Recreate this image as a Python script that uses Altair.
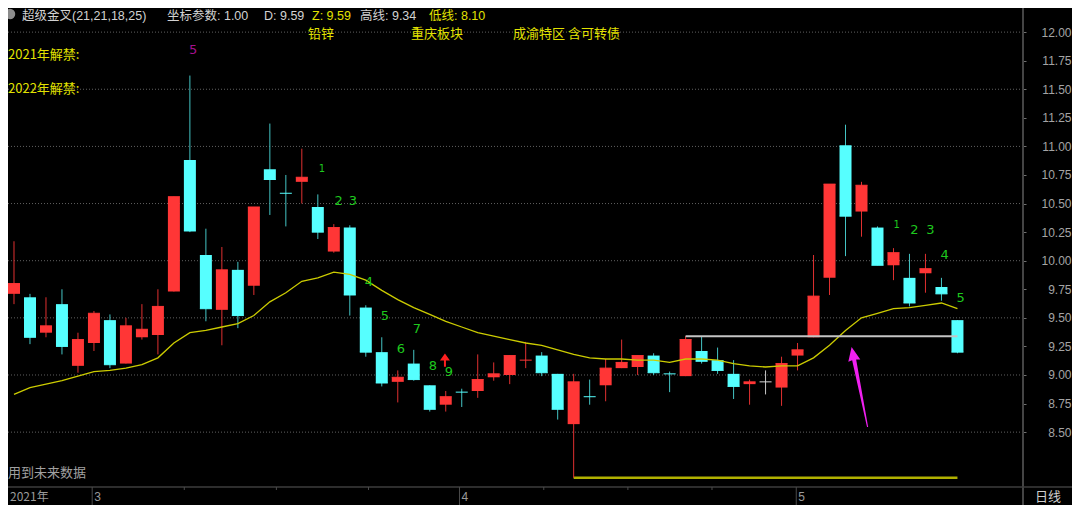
import altair as alt
import pandas as pd

# ---------------- data ----------------
opens = [9.71, 9.68, 9.37, 9.62, 9.08, 9.28, 9.48, 9.10, 9.33, 9.35,
         9.73, 10.88, 10.05, 9.57, 9.92, 9.78, 10.80, 10.59, 10.69, 10.47,
         10.08, 10.29, 9.59, 9.20, 8.94, 9.10, 8.91, 8.74, 8.85, 8.86,
         8.98, 9.00, 9.13, 9.17, 9.01, 8.57, 8.81, 8.91, 9.06, 9.07,
         9.17, 9.01, 8.99, 9.21, 9.13, 9.01, 8.92, 8.94, 8.89, 9.17,
         9.33, 9.85, 11.01, 10.43, 10.29, 9.96, 9.85, 9.89, 9.77, 9.48]
closes = [9.80, 9.33, 9.43, 9.25, 9.31, 9.54, 9.09, 9.43, 9.40, 9.60,
          10.56, 10.26, 9.58, 9.92, 9.52, 10.47, 10.71, 10.59, 10.73, 10.25,
          10.29, 9.70, 9.20, 8.93, 8.98, 8.96, 8.70, 8.81, 8.85, 8.96,
          9.01, 9.17, 9.13, 9.02, 8.70, 8.94, 8.81, 9.06, 9.11, 9.17,
          9.02, 9.01, 9.31, 9.12, 9.04, 8.90, 8.94, 8.94, 9.10, 9.22,
          9.69, 10.67, 10.39, 10.66, 9.96, 10.07, 9.63, 9.93, 9.71, 9.20]
highs = [10.17, 9.71, 9.68, 9.75, 9.37, 9.56, 9.53, 9.50, 9.62, 9.75,
         10.56, 11.62, 10.28, 10.12, 9.99, 10.47, 11.20, 10.75, 10.98, 10.58,
         10.32, 10.31, 9.61, 9.33, 9.04, 9.22, 8.91, 8.86, 8.88, 9.18,
         9.11, 9.17, 9.29, 9.20, 9.01, 9.01, 8.96, 9.14, 9.31, 9.17,
         9.19, 9.03, 9.34, 9.34, 9.24, 9.13, 8.96, 9.04, 9.16, 9.28,
         10.05, 10.67, 11.19, 10.69, 10.30, 10.11, 10.06, 10.06, 9.85, 9.48]
lows = [9.62, 9.27, 9.33, 9.18, 9.02, 9.21, 9.06, 9.10, 9.31, 9.18,
        9.73, 10.25, 9.47, 9.26, 9.41, 9.70, 10.40, 10.30, 10.50, 10.19,
        10.07, 9.52, 9.16, 8.90, 8.76, 8.95, 8.68, 8.68, 8.72, 8.80,
        8.95, 8.92, 9.06, 8.99, 8.61, 8.10, 8.74, 8.77, 9.06, 9.00,
        9.00, 8.85, 8.99, 9.10, 9.01, 8.79, 8.74, 8.83, 8.73, 9.04,
        9.33, 9.70, 10.04, 10.21, 9.96, 9.83, 9.60, 9.72, 9.65, 9.19]
kinds = ["up", "down", "up", "down", "up", "up", "down", "up", "up", "up",
         "up", "down", "down", "up", "down", "up", "down", "down", "up", "down",
         "up", "down", "down", "down", "up", "down", "down", "up", "down", "up",
         "up", "up", "up", "down", "down", "up", "down", "up", "up", "up",
         "down", "down", "up", "down", "down", "down", "up", "flat", "up", "up",
         "up", "up", "down", "up", "down", "up", "down", "up", "down", "down"]
ma_values = [8.83, 8.89, 8.92, 8.95, 8.99, 9.03, 9.04, 9.06, 9.09, 9.15,
             9.28, 9.37, 9.39, 9.42, 9.45, 9.52, 9.64, 9.72, 9.82, 9.85,
             9.90, 9.88, 9.83, 9.74, 9.66, 9.59, 9.53, 9.47, 9.42, 9.37,
             9.34, 9.31, 9.28, 9.26, 9.22, 9.18, 9.15, 9.14, 9.14, 9.13,
             9.13, 9.11, 9.14, 9.14, 9.13, 9.10, 9.08, 9.07, 9.08, 9.08,
             9.15, 9.26, 9.39, 9.50, 9.54, 9.58, 9.59, 9.61, 9.63, 9.58]

price_ticks = [8.50, 8.75, 9.00, 9.25, 9.50, 9.75, 10.00, 10.25, 10.50,
               10.75, 11.00, 11.25, 11.50, 11.75, 12.00]
grid_levels = [8.5, 9.0, 9.5, 10.0, 10.5, 11.0, 11.5, 12.0]

high_line = 9.34
low_line = 8.10
high_span = [42, 59]
low_span = [35, 59]

td_labels = ["1", "2", "3", "4", "5", "6", "7", "8", "9",
             "1", "2", "3", "4", "5"]
td_idx = [19.26, 20.3, 21.2, 22.2, 23.2, 24.2, 25.2, 26.2, 27.2,
          55.2, 56.3, 57.3, 58.2, 59.2]
td_price = [10.80, 10.52, 10.52, 9.81, 9.52, 9.23, 9.40, 9.08, 9.03,
            10.31, 10.27, 10.27, 10.05, 9.67]
td_small = [True, False, False, False, False, False, False, False, False,
            True, False, False, False, False]

month_labels = ["3", "4", "5"]
month_idx = [4.89, 27.86, 48.92]
week_tick_idx = [10.65, 16.41, 22.17, 33.13, 38.39, 43.65]

header_texts = ["超级金叉(21,21,18,25)", "坐标参数: 1.00", "D: 9.59", "Z: 9.59",
                "高线: 9.34", "低线: 8.10"]
sector_texts = ["铅锌", "重庆板块", "成渝特区 含可转债"]
unlock_texts = ["2021年解禁:", "2022年解禁:"]

# ---------------- layout / style ----------------
W, H = 1014, 479
RIGHT_PAD, BOTTOM_PAD = 50, 18
FONT = "Noto Sans CJK SC"
HEAD_FONT = "Liberation Sans, Noto Sans CJK SC"
xscale = alt.Scale(domain=[-0.062, 62.724], nice=False, zero=False)
yscale = alt.Scale(domain=[8.020, 12.211], nice=False, zero=False)
yaxis = alt.Axis(orient="right", values=price_ticks, format=".2f", title=None,
                 labelColor="#a4a4a4", labelFontSize=12, labelFont="Liberation Sans",
                 labelAlign="right", labelPadding=45, tickSize=4, tickColor="#707070",
                 domain=False, grid=False, labelOverlap=False)


def X(f):
    return alt.X(f, type="quantitative", scale=xscale, axis=None)


def Y(f):
    return alt.Y(f, type="quantitative", scale=yscale, axis=yaxis)


candles = pd.DataFrame({"idx": list(range(len(opens))), "open": opens, "close": closes,
                        "high": highs, "low": lows, "kind": kinds, "ma": ma_values})

body_color = alt.Color("kind:N", legend=None,
                       scale=alt.Scale(domain=["up", "down", "flat"],
                                       range=["#ff3636", "#56ffff", "#d8d8d8"]))
wick_color = alt.Color("kind:N", legend=None,
                       scale=alt.Scale(domain=["up", "down", "flat"],
                                       range=["#e03030", "#44c4c4", "#c8c8c8"]))

grid = alt.Chart(pd.DataFrame({"g": grid_levels})).mark_rule(
    color="#606060", strokeWidth=1, strokeDash=[1, 2]).encode(
    y=Y("g"), x=alt.value(0), x2=alt.value(W - 2))

wicks = alt.Chart(candles).mark_rule(strokeWidth=1, opacity=1).encode(
    x=X("idx"), y=Y("low"), y2=alt.Y2("high"), color=wick_color)

candle_body = alt.layer(
    alt.Chart(candles).mark_bar(size=12, opacity=1).encode(
        x=X("idx"), y=Y("open"), y2=alt.Y2("close"), color=body_color),
    alt.Chart(candles).mark_tick(size=12, thickness=1, orient="horizontal", opacity=1).encode(
        x=X("idx"), y=Y("close"), color=body_color),
)

candle_layer = alt.layer(wicks, candle_body).resolve_scale(color="independent")

ma_line = alt.Chart(candles).mark_line(color="#cccc00", strokeWidth=1.3).encode(
    x=X("idx"), y=Y("ma"))

hl = alt.Chart(pd.DataFrame({"a": [high_span[0]], "b": [high_span[1]], "p": [high_line]})).mark_rule(
    color="#c4c4c4", strokeWidth=2).encode(x=X("a"), x2=alt.X2("b"), y=Y("p"))

ll = alt.Chart(pd.DataFrame({"a": [low_span[0]], "b": [low_span[1]], "p": [low_line]})).mark_rule(
    color="#b0b000", strokeWidth=2.5).encode(x=X("a"), x2=alt.X2("b"), y=Y("p"))

td_df = pd.DataFrame({"t": td_labels, "i": td_idx, "p": td_price, "small": td_small})
td = alt.Chart(td_df).mark_text(color="#1ec81e", font="DejaVu Sans",
                                align="center", baseline="middle").encode(
    x=X("i"), y=Y("p"), text="t",
    size=alt.Size("small:N", legend=None,
                  scale=alt.Scale(domain=[False, True], range=[13, 10])))

magenta5 = alt.Chart(pd.DataFrame({"t": ["5"], "i": [11.2], "p": [11.84]})).mark_text(
    color="#a4108e", fontSize=13, font="DejaVu Sans", align="center", baseline="middle").encode(
    x=X("i"), y=Y("p"), text="t")

red_arrow = alt.Chart(pd.DataFrame({"i": [26.95], "p": [9.13]})).mark_point(
    shape="M0,-1L0.75,0.05L0.15,0.05L0.15,1L-0.15,1L-0.15,0.05L-0.75,0.05Z",
    filled=True, color="#ff2020", opacity=1, size=178, strokeWidth=0).encode(
    x=X("i"), y=Y("p"))

magenta_arrow = alt.Chart(pd.DataFrame({"i": [52.88], "p": [8.895]})).mark_point(
    shape="M0,-1L0.15,-0.66L0.05,-0.68L0.014,1L-0.014,1L-0.05,-0.68L-0.15,-0.66Z",
    filled=True, color="#f020f0", opacity=1, size=6660, angle=348.7, strokeWidth=0).encode(
    x=X("i"), y=Y("p"))

# frame lines
right_line = alt.Chart(pd.DataFrame({"d": [0]})).mark_rule(color="#444444", strokeWidth=2).encode(
    x=alt.value(W + 1), y=alt.value(0), y2=alt.value(H + BOTTOM_PAD))
bottom_line = alt.Chart(pd.DataFrame({"d": [0]})).mark_rule(color="#3c3c3c", strokeWidth=1.5).encode(
    x=alt.value(0), x2=alt.value(W + RIGHT_PAD), y=alt.value(H))

month_df = pd.DataFrame({"t": month_labels, "i": month_idx})
month_sep = alt.Chart(month_df).mark_rule(color="#4a4a4a", strokeWidth=1).encode(
    x=X("i"), y=alt.value(H), y2=alt.value(H + BOTTOM_PAD))
month_txt = alt.Chart(month_df).mark_text(color="#9a9a9a", fontSize=12, font="Liberation Sans",
                                          align="left", baseline="middle", dx=2).encode(
    x=X("i"), y=alt.value(H + 10), text="t")
week_ticks = alt.Chart(pd.DataFrame({"i": week_tick_idx})).mark_rule(
    color="#4a4a4a", strokeWidth=1).encode(x=X("i"), y=alt.value(H), y2=alt.value(H + 3))


def label(text, x, y, color, size=13, font=FONT):
    return alt.Chart(pd.DataFrame({"t": [text]})).mark_text(
        color=color, fontSize=size, font=font, align="left", baseline="middle").encode(
        x=alt.value(x), y=alt.value(y), text="t")


WHITE = "#d2d2d2"
YEL = "#e2e200"
icon = alt.Chart(pd.DataFrame({"d": [0]})).mark_point(
    shape="circle", filled=True, color="#8c8c8c", opacity=1, size=110).encode(
    x=alt.value(2), y=alt.value(6))

HY = 8
HS = 12.5
texts = [
    label(header_texts[0], 14, HY, WHITE, HS, HEAD_FONT),
    label(header_texts[1], 159, HY, WHITE, HS, HEAD_FONT),
    label(header_texts[2], 256, HY, WHITE, HS, HEAD_FONT),
    label(header_texts[3], 304, HY, YEL, HS, HEAD_FONT),
    label(header_texts[4], 352, HY, WHITE, HS, HEAD_FONT),
    label(header_texts[5], 421, HY, YEL, HS, HEAD_FONT),
    label(sector_texts[0], 300, 26, YEL),
    label(sector_texts[1], 403, 26, YEL),
    label(sector_texts[2], 505, 26, YEL),
    label(unlock_texts[0], 0, 47, YEL),
    label(unlock_texts[1], 0, 81, YEL),
    label("用到未来数据", 0, H - 14, "#a0a0a0"),
    label("2021年", 2, H + 10, "#9a9a9a", size=12),
    label("日线", W + 13, H + 10, "#cfcfcf"),
]

chart = alt.layer(
    grid, ll, candle_layer, ma_line, hl, td, magenta5, red_arrow,
    magenta_arrow, right_line, bottom_line, month_sep, week_ticks, month_txt, icon, *texts
).properties(
    width=W, height=H, autosize=alt.AutoSizeParams(type="none"),
    padding={"left": 0, "top": 0, "right": RIGHT_PAD, "bottom": BOTTOM_PAD},
    background="#000000"
).configure_view(strokeWidth=0)

chart.save("out.html", embed_options={"renderer": "svg", "actions": False})
